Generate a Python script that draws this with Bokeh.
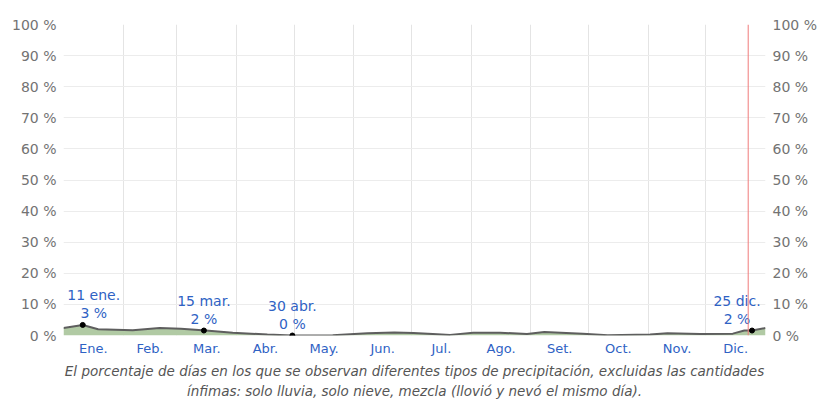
from bokeh.plotting import figure
from bokeh.models import FixedTicker, LinearAxis, Span, Title, Range1d
from bokeh.core.properties import value
from bokeh.embed import file_html
from bokeh.resources import INLINE

# ---- data ----
days = [0, 10, 18, 36, 50, 61, 74, 88, 106, 119, 140, 158, 172, 182, 192, 201,
        213, 227, 241, 250, 270, 283, 305, 314, 331, 348, 354, 358, 365]
pct = [2.4, 3.4, 2.0, 1.7, 2.4, 2.2, 1.6, 0.9, 0.3, 0.0, 0.1, 0.7, 1.0, 0.8, 0.5, 0.2,
       0.9, 0.9, 0.5, 1.1, 0.6, 0.1, 0.3, 0.7, 0.5, 0.6, 1.6, 1.6, 2.4]

ann_day = [10, 73, 119, 358]
ann_val = [3.4, 1.6, 0.0, 1.6]
ann_date = ["11 ene.", "15 mar.", "30 abr.", "25 dic."]
ann_pct = ["3 %", "2 %", "0 %", "2 %"]

month_names = ["Ene.", "Feb.", "Mar.", "Abr.", "May.", "Jun.", "Jul.", "Ago.", "Set.", "Oct.", "Nov.", "Dic."]
month_len = [31, 28, 31, 30, 31, 30, 31, 31, 30, 31, 30, 31]
y_ticks = [0, 10, 20, 30, 40, 50, 60, 70, 80, 90, 100]
today_day = 356

caption1 = "El porcentaje de días en los que se observan diferentes tipos de precipitación, excluidas las cantidades"
caption2 = "ínfimas: solo lluvia, solo nieve, mezcla (llovió y nevó el mismo día)."

FONT = "DejaVu Sans"
BLUE = "#2f62c4"
GRAY = "#737373"

starts = []
acc = 0
for m in month_len:
    starts.append(acc)
    acc += m
mids = [s + m / 2 for s, m in zip(starts, month_len)]

p = figure(width=819, height=400, output_backend="svg", toolbar_location=None,
           x_range=Range1d(0, 365), y_range=Range1d(0, 100),
           min_border_left=63, min_border_right=54, min_border_top=24, min_border_bottom=65)
p.outline_line_color = None

# grids
p.xgrid.ticker = FixedTicker(ticks=starts[1:])
p.xgrid.grid_line_color = "#e4e4e4"
p.ygrid.ticker = FixedTicker(ticks=y_ticks)
p.ygrid.grid_line_color = "#ececec"

# x axis
xa = p.xaxis[0]
xa.ticker = FixedTicker(ticks=mids)
xa.major_label_overrides = {m: n for m, n in zip(mids, month_names)}
xa.axis_line_color = None
xa.major_tick_line_color = None
xa.minor_tick_line_color = None
xa.major_tick_out = 0
xa.major_tick_in = 0
xa.major_label_text_color = BLUE
xa.major_label_text_font = FONT
xa.major_label_text_font_size = "13px"
xa.major_label_standoff = 5

# y axes
ya = p.yaxis[0]
ra = LinearAxis()
p.add_layout(ra, "right")
for ax in (ya, ra):
    ax.ticker = FixedTicker(ticks=y_ticks)
    ax.major_label_overrides = {v: f"{v} %" for v in y_ticks}
    ax.axis_line_color = None
    ax.major_tick_line_color = None
    ax.minor_tick_line_color = None
    ax.major_tick_out = 0
    ax.major_tick_in = 0
    ax.major_label_text_color = GRAY
    ax.major_label_text_font = FONT
    ax.major_label_text_font_size = "14px"
    ax.major_label_standoff = 7

# area + line
p.varea(x=days, y1=[0] * len(days), y2=pct, fill_color="#b1caa4", fill_alpha=1)
p.line(x=days, y=pct, line_color="#5e5e5e", line_width=2)

# today line
p.add_layout(Span(location=today_day, dimension="height", line_color="#f07a7a", line_width=1))

# annotations
p.scatter(x=ann_day, y=ann_val, size=5, color="black")
for i in range(len(ann_day)):
    if i == 0:
        xo = 11
    elif i == len(ann_day) - 1:
        xo = -15
    else:
        xo = 0
    p.text(x=[ann_day[i]], y=[ann_val[i]], text=[ann_pct[i]], text_font=value(FONT),
           text_font_size="14px", text_color=BLUE, text_align="center",
           text_baseline="middle", x_offset=xo, y_offset=-12)
    p.text(x=[ann_day[i]], y=[ann_val[i]], text=[ann_date[i]], text_font=value(FONT),
           text_font_size="14px", text_color=BLUE, text_align="center",
           text_baseline="middle", x_offset=xo, y_offset=-30)

# caption
for i, c in enumerate((caption1, caption2)):
    t = Title(text=c, align="center", text_font=FONT, text_font_style="italic",
              text_font_size="13.5px", text_color="#555555", standoff=4 if i == 0 else 0)
    p.add_layout(t, "below")

open("out.html", "w").write(file_html(p, INLINE))
